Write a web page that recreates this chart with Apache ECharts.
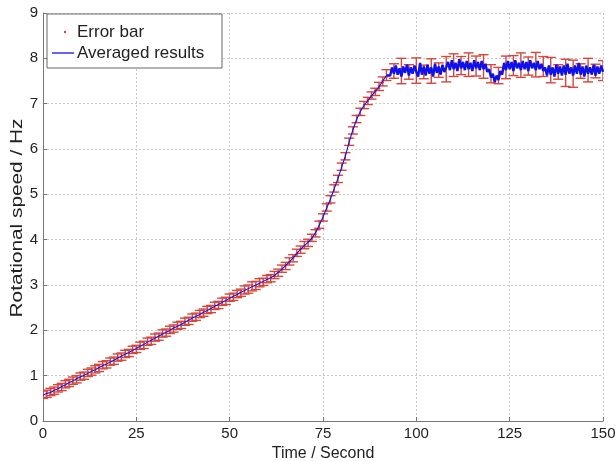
<!DOCTYPE html>
<html><head><meta charset="utf-8">
<script src="https://cdn.jsdelivr.net/npm/echarts@6/dist/echarts.min.js"></script>
<style>html,body{margin:0;padding:0;background:#fff;}#c{width:616px;height:461px;}</style>
</head><body><div id="c"></div>
<script>
// Averaged results: rising part, t = 0..92 s, step 1 s
const avgRiseStart = 0, avgRiseStep = 1;
const avgRise = [
0.57,0.61,0.63,0.68,0.71,0.76,0.80,0.85,0.88,0.93,
0.97,1.01,1.05,1.10,1.13,1.18,1.22,1.26,1.30,1.34,
1.39,1.43,1.47,1.51,1.56,1.60,1.65,1.69,1.74,1.78,
1.83,1.87,1.92,1.96,2.00,2.05,2.09,2.13,2.18,2.22,
2.27,2.31,2.35,2.40,2.44,2.48,2.53,2.57,2.62,2.66,
2.71,2.75,2.79,2.84,2.88,2.92,2.96,3.00,3.04,3.08,
3.12,3.16,3.21,3.28,3.35,3.43,3.51,3.60,3.70,3.79,
3.87,3.94,4.03,4.15,4.32,4.50,4.70,4.90,5.12,5.35,
5.60,5.85,6.15,6.42,6.65,6.83,6.96,7.07,7.17,7.27,
7.37,7.50,7.62];
// Averaged results: plateau, t = 93..150 s, step 0.5 s
const avgPlateauStart = 93, avgPlateauStep = 0.5;
const avgPlateau = [
7.62,7.80,7.66,7.84,7.64,7.78,7.60,7.82,7.68,7.86,7.62,7.80,7.66,7.84,7.70,
7.60,7.90,7.64,7.82,7.62,7.86,7.66,7.80,7.60,7.88,7.68,7.82,7.64,7.86,7.70,7.80,
7.92,7.74,7.96,7.76,7.90,7.72,7.98,7.78,7.92,7.74,7.94,7.76,7.90,7.72,7.96,7.78,7.92,7.74,7.94,7.76,7.88,7.70,
7.76,7.58,7.66,7.48,7.62,7.52,7.72,7.64,
7.90,7.74,7.94,7.76,7.92,7.72,7.96,7.78,7.90,7.74,7.94,7.76,7.92,7.72,7.96,7.78,7.90,7.74,7.94,7.76,7.88,7.72,
7.80,7.62,7.84,7.64,7.80,7.60,7.86,7.66,7.82,7.62,7.84,7.64,7.88,7.66,7.80,7.62,7.84,7.66,7.90,7.64,7.82,7.60,7.84,7.66,7.80,7.64,7.86,7.62,7.82,7.66,7.84,7.70];

// Error bars: rising part, t = 0..92 s, step 1 s
const errRiseStart = 0, errRiseStep = 1;
const errRiseMean = [
0.58,0.60,0.64,0.67,0.72,0.75,0.81,0.84,0.89,0.92,
0.98,1.00,1.06,1.09,1.14,1.17,1.23,1.25,1.31,1.33,
1.40,1.42,1.48,1.50,1.57,1.59,1.66,1.68,1.75,1.77,
1.84,1.86,1.93,1.95,2.01,2.04,2.10,2.12,2.19,2.21,
2.28,2.30,2.36,2.39,2.45,2.47,2.54,2.56,2.63,2.65,
2.72,2.74,2.80,2.83,2.89,2.91,2.97,2.99,3.05,3.07,
3.13,3.15,3.22,3.27,3.36,3.42,3.52,3.59,3.71,3.78,
3.88,3.93,4.04,4.14,4.33,4.49,4.71,4.89,5.13,5.34,
5.61,5.84,6.16,6.41,6.66,6.82,6.97,7.06,7.18,7.26,
7.38,7.49,7.63];
const errRiseHalf = [
0.08,0.08,0.08,0.08,0.08,0.08,0.08,0.08,0.08,0.08,
0.08,0.08,0.08,0.08,0.08,0.08,0.08,0.08,0.08,0.08,
0.08,0.08,0.08,0.08,0.08,0.08,0.08,0.08,0.08,0.08,
0.08,0.08,0.08,0.08,0.08,0.08,0.08,0.08,0.08,0.08,
0.08,0.08,0.08,0.08,0.08,0.08,0.08,0.08,0.08,0.08,
0.08,0.08,0.08,0.08,0.09,0.09,0.10,0.09,0.09,0.08,
0.08,0.08,0.08,0.08,0.08,0.08,0.08,0.08,0.08,0.08,
0.08,0.08,0.08,0.08,0.08,0.08,0.08,0.08,0.08,0.08,
0.08,0.08,0.08,0.08,0.08,0.08,0.08,0.08,0.08,0.08,
0.09,0.10,0.12];
// Error bars: plateau, t = 94..150 s, step 2 s
const errPlateauStart = 94, errPlateauStep = 2;
const errPlateauMean = [7.72,7.72,7.70,7.73,7.70,7.72,7.74,7.76,7.85,7.84,7.86,7.83,7.82,7.66,7.62,
  7.80,7.84,7.85,7.83,7.86,7.82,7.74,7.70,7.68,7.66,7.72,7.74,7.72,7.73];
const errPlateauHalf = [0.16,0.28,0.16,0.28,0.15,0.27,0.16,0.28,0.25,0.20,0.26,0.22,0.26,0.20,0.18,
  0.25,0.22,0.27,0.20,0.27,0.22,0.28,0.16,0.30,0.30,0.16,0.26,0.15,0.22];

const xTicks = [0,25,50,75,100,125,150];
const yTicks = [0,1,2,3,4,5,6,7,8,9];

function series2(start, step, vals){ return vals.map((v,i)=>[start+i*step, v]); }
function errSeries(start, step, means, halfs){ return means.map((m,i)=>[start+i*step, m, halfs[i]]); }

const riseData = series2(avgRiseStart, avgRiseStep, avgRise);
const plateauData = [riseData[riseData.length-1]].concat(series2(avgPlateauStart, avgPlateauStep, avgPlateau));
const errData = errSeries(errRiseStart, errRiseStep, errRiseMean, errRiseHalf).concat(errSeries(errPlateauStart, errPlateauStep, errPlateauMean, errPlateauHalf));

const FONT = 'Liberation Sans';
const RED = '#d4473a', BLUE = '#1010e8';
const chart = echarts.init(document.getElementById('c'), null, {renderer:'canvas'});
chart.setOption({
  animation:false,
  backgroundColor:'#fff',
  grid:{left:43, right:13, top:13, bottom:40, containLabel:false, outerBoundsMode:'none'},
  xAxis:{type:'value', min:0, max:150, interval:25,
    name:'Time / Second', nameLocation:'middle', nameGap:21,
    nameTextStyle:{fontFamily:FONT, fontSize:16, color:'#222'},
    axisLine:{show:true, lineStyle:{color:'#777', width:1}},
    axisTick:{show:true, inside:true, length:4, lineStyle:{color:'#777'}},
    axisLabel:{fontFamily:FONT, fontSize:15, color:'#222', margin:5, formatter:v=>xTicks.includes(v)?String(v):''},
    splitLine:{show:true, lineStyle:{color:'#c8c8c8', type:[2,2], width:1}}},
  yAxis:{type:'value', min:0, max:9, interval:1,
    axisLine:{show:true, lineStyle:{color:'#777', width:1}},
    axisTick:{show:true, inside:true, length:4, lineStyle:{color:'#777'}},
    axisLabel:{fontFamily:FONT, fontSize:15, color:'#222', margin:5, formatter:v=>yTicks.includes(v)?String(v):''},
    splitLine:{show:true, lineStyle:{color:'#c8c8c8', type:[2,2], width:1}}},
  series:[
    {type:'custom', name:'Error bar', z:2, clip:true, data:errData, encode:{x:0,y:1},
     renderItem:function(params, api){
       const t=api.value(0), m=api.value(1), h=api.value(2);
       const top=api.coord([t,m+h]), bot=api.coord([t,m-h]);
       const w=5, st={stroke:RED, lineWidth:1.4};
       return {type:'group', children:[
         {type:'line', shape:{x1:top[0],y1:top[1],x2:bot[0],y2:bot[1]}, style:st},
         {type:'line', shape:{x1:top[0]-w,y1:top[1],x2:top[0]+w,y2:top[1]}, style:st},
         {type:'line', shape:{x1:bot[0]-w,y1:bot[1],x2:bot[0]+w,y2:bot[1]}, style:st}
       ]};
     }},
    {type:'line', name:'Averaged results', z:3, data:riseData, showSymbol:false, symbol:'none',
     lineStyle:{color:BLUE, width:1.1}},
    {type:'line', name:'Averaged results', z:3, data:plateauData, showSymbol:false, symbol:'none',
     lineStyle:{color:BLUE, width:2.4}}
  ],
  graphic:[
    {type:'text', x:18, y:218, rotation:Math.PI/2, scaleX:1.3,
     style:{text:'Rotational speed / Hz', font:'16px "Liberation Sans"', fill:'#222', textAlign:'center', textVerticalAlign:'middle'}},
    {type:'rect', shape:{x:47, y:14, width:175, height:54}, style:{fill:'#fff', stroke:'#666', lineWidth:1}, z:100},
    {type:'circle', shape:{cx:65, cy:32, r:1.2}, style:{fill:RED}, z:101},
    {type:'text', x:77, y:32, style:{text:'Error bar', font:'17px "Liberation Sans"', fill:'#222', textVerticalAlign:'middle'}, z:101},
    {type:'line', shape:{x1:52, y1:53, x2:74, y2:53}, style:{stroke:BLUE, lineWidth:1.3}, z:101},
    {type:'text', x:77, y:53, style:{text:'Averaged results', font:'17px "Liberation Sans"', fill:'#222', textVerticalAlign:'middle'}, z:101}
  ]
});
</script></body></html>
